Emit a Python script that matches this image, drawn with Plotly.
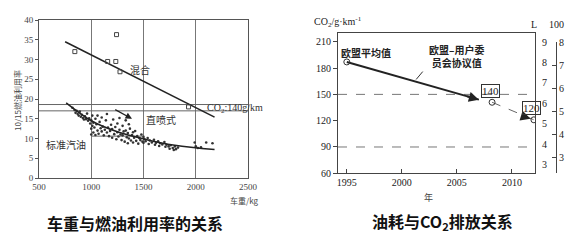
import plotly.graph_objects as go

W, H = 582, 241

# ---------------- Left chart data ----------------
weight_kg = [820, 840, 850, 860, 870, 880, 890, 900, 910, 920, 930, 940, 950, 960, 970, 980, 990,
             1000, 1000, 1000, 1010, 1010, 1020, 1020, 1030, 1040, 1040, 1050, 1060, 1060, 1070,
             1080, 1090, 1100, 1100, 1110, 1120, 1130, 1140, 1150, 1150, 1160, 1170, 1180, 1190,
             1200, 1200, 1210, 1220, 1230, 1240, 1250, 1250, 1260, 1270, 1270, 1280, 1290, 1300,
             1300, 1310, 1320, 1330, 1330, 1340, 1350, 1350, 1360, 1360, 1370, 1380, 1390, 1400,
             1400, 1410, 1420, 1430, 1440, 1450, 1460, 1470, 1480, 1490, 1500, 1500, 1510, 1520,
             1540, 1550, 1560, 1580, 1600, 1610, 1620, 1640, 1650, 1660, 1680, 1700, 1710, 1720,
             1740, 1750, 1760, 1780, 1790, 1800, 1810, 1830, 1990, 2000, 2020, 2050, 2100, 2160]
fuel_eff = [17.8, 17.2, 16.5, 17.0, 16.2, 15.8, 16.8, 15.5, 16.0, 15.2, 14.8, 15.6, 14.9, 16.3, 14.5, 15.1, 13.8,
            14.6, 12.5, 11.0, 15.8, 13.2, 14.0, 11.5, 12.8, 15.0, 10.9, 13.6, 12.0, 15.8, 11.2,
            14.2, 12.6, 11.8, 15.3, 13.0, 10.8, 12.2, 14.6, 11.5, 16.2, 12.8, 10.6, 11.9, 13.5,
            12.4, 10.2, 14.8, 11.1, 12.9, 9.8, 11.6, 13.8, 10.5, 12.2, 15.2, 11.0, 9.6, 13.2,
            10.8, 11.8, 9.2, 12.0, 14.6, 10.3, 11.4, 8.8, 10.0, 13.6, 12.5, 9.5, 10.9, 11.6,
            9.0, 10.2, 11.9, 9.4, 10.6, 8.7, 10.1, 9.6, 11.0, 9.2, 10.4, 8.9, 9.8, 9.3,
            10.1, 8.6, 9.5, 9.0, 9.7, 8.4, 8.9, 9.3, 8.1, 8.8, 8.5, 9.1, 7.9, 8.4,
            8.0, 7.4, 8.3, 7.6, 7.1, 8.0, 7.3, 7.7, 9.0, 8.0, 7.6, 7.8, 9.0, 8.8]

hybrid_kg = [843, 1157, 1235, 1242, 1275, 1931]
hybrid_eff = [32.0, 29.5, 29.5, 36.3, 26.9, 18.0]

hybrid_fit_kg = [750, 2180]
hybrid_fit_eff = [34.5, 15.4]

std_fit_kg = [760, 1000, 1250, 1500, 1800, 2180]
std_fit_eff = [19.0, 14.5, 11.7, 9.9, 8.3, 7.2]

di_fit_kg = [1215, 1390]
di_fit_eff = [17.5, 15.0]

co2_band_eff = [18.6, 17.0]
box_line_kg = [1000, 1500]
box_line_eff = [10.6, 10.6]

left_xticks = [500, 1000, 1500, 2000, 2500]
left_yticks = [0, 5, 10, 15, 20, 25, 30, 35, 40]

# ---------------- Right chart data ----------------
eu_years = [1995, 2007]
eu_co2 = [187, 144]
target_years = [2008.2, 2012]
target_co2 = [141, 121]
ref_levels = [150, 90]
right_xticks = [1995, 2000, 2005, 2010]
right_yticks = [60, 90, 120, 150, 180, 210]
petrol_ticks = [3, 4, 5, 6, 7, 8, 9]
diesel_ticks = [2.29, 3, 4, 5, 6, 7, 8]
diesel_text = ["", "3", "4", "5", "6", "7", "8"]
CO2_PER_L_PETROL = 23.3
CO2_PER_L_DIESEL = 26.2

SERIF = "Liberation Serif, DejaVu Serif, serif"
CJK = "Noto Sans CJK SC"

def px(x):
    return x / W

def py(y):
    return 1 - y / H

fig = go.Figure()

# ---- left chart traces ----
for lv in co2_band_eff:
    fig.add_trace(go.Scatter(x=[left_xticks[0], left_xticks[-1]], y=[lv, lv], mode="lines",
                             line=dict(color="#666", width=1), xaxis="x", yaxis="y", hoverinfo="skip"))
fig.add_trace(go.Scatter(x=box_line_kg, y=box_line_eff, mode="lines",
                         line=dict(color="#666", width=1), xaxis="x", yaxis="y", hoverinfo="skip"))
fig.add_trace(go.Scatter(x=weight_kg, y=fuel_eff, mode="markers",
                         marker=dict(color="#333", size=2.6), xaxis="x", yaxis="y"))
fig.add_trace(go.Scatter(x=std_fit_kg, y=std_fit_eff, mode="lines", line_shape="spline",
                         line=dict(color="#222", width=1.5), xaxis="x", yaxis="y"))
fig.add_trace(go.Scatter(x=hybrid_fit_kg, y=hybrid_fit_eff, mode="lines",
                         line=dict(color="#222", width=1.5), xaxis="x", yaxis="y"))
fig.add_trace(go.Scatter(x=hybrid_kg, y=hybrid_eff, mode="markers",
                         marker=dict(symbol="square-open", color="#444", size=4, line=dict(width=1)),
                         xaxis="x", yaxis="y"))

# ---- right chart traces ----
for lv in ref_levels:
    fig.add_trace(go.Scatter(x=[1994.2, 2012.1], y=[lv, lv], mode="lines",
                             line=dict(color="#777", width=1, dash="dash"), xaxis="x2", yaxis="y2",
                             hoverinfo="skip"))
fig.add_trace(go.Scatter(x=eu_years, y=eu_co2, mode="lines",
                         line=dict(color="#222", width=2), xaxis="x2", yaxis="y2"))
fig.add_trace(go.Scatter(x=eu_years[:1], y=eu_co2[:1], mode="markers",
                         marker=dict(symbol="circle-open", color="#333", size=6, line=dict(width=1)),
                         xaxis="x2", yaxis="y2"))
fig.add_trace(go.Scatter(x=target_years, y=target_co2, mode="lines+markers",
                         line=dict(color="#666", width=1, dash="dash"),
                         marker=dict(symbol="circle-open", color="#333", size=6, line=dict(width=1)),
                         xaxis="x2", yaxis="y2"))
# leader line from label to EU line
fig.add_trace(go.Scatter(x=[2001.9, 2001.3], y=[176, 167], mode="lines",
                         line=dict(color="#333", width=1), xaxis="x2", yaxis="y2"))
# invisible traces to bind extra axes
fig.add_trace(go.Scatter(x=[2000], y=[5], mode="markers", marker=dict(opacity=0),
                         xaxis="x2", yaxis="y3", hoverinfo="skip"))
fig.add_trace(go.Scatter(x=[2000], y=[5], mode="markers", marker=dict(opacity=0),
                         xaxis="x2", yaxis="y4", hoverinfo="skip"))

ann = []

def label(xp, ypix, text, family=CJK, size=10, color="#333", **kw):
    d = dict(x=px(xp), y=py(ypix), xref="paper", yref="paper", text=text, showarrow=False,
             xanchor="center", yanchor="middle", font=dict(family=family, size=size, color=color))
    d.update(kw)
    ann.append(d)

# left chart labels (data-anchored)
ann.append(dict(x=1470, y=27.5, xref="x", yref="y", text="混合", showarrow=False,
                xanchor="center", font=dict(family=CJK, size=10, color="#333")))
ann.append(dict(x=2088, y=17.7, xref="x", yref="y", text="CO<sub>2</sub>:140g/km", showarrow=False,
                xanchor="left", font=dict(family=SERIF, size=10, color="#333")))
ann.append(dict(x=1670, y=14.7, xref="x", yref="y", text="直喷式", showarrow=False,
                xanchor="center", font=dict(family=CJK, size=10, color="#333")))
ann.append(dict(x=762, y=8.4, xref="x", yref="y", text="标准汽油", showarrow=False,
                xanchor="center", font=dict(family=CJK, size=10, color="#333")))
ann.append(dict(x=di_fit_kg[1], y=di_fit_eff[1], ax=di_fit_kg[0], ay=di_fit_eff[0],
                xref="x", yref="y", axref="x", ayref="y", showarrow=True,
                arrowhead=2, arrowsize=1, arrowwidth=1.3, arrowcolor="#222", text=""))
label(17, 101, "10/15燃油利用率", size=8, color="#444", textangle=-90)
label(244, 200, "车重/kg", size=8, color="#444")
label(135, 223, "<b>车重与燃油利用率的关系</b>", size=16, color="#111")

# right chart
ann.append(dict(x=eu_years[1], y=eu_co2[1], ax=eu_years[1] - 1.2, ay=eu_co2[1] + 4.3,
                xref="x2", yref="y2", axref="x2", ayref="y2", showarrow=True,
                arrowhead=2, arrowsize=1, arrowwidth=2, arrowcolor="#222", text=""))
ann.append(dict(x=2011.7, y=122.3, ax=2010.9, ay=125.5,
                xref="x2", yref="y2", axref="x2", ayref="y2", showarrow=True,
                arrowhead=2, arrowsize=1, arrowwidth=2, arrowcolor="#222", text=""))
label(366, 52, "<b>欧盟平均值</b>", color="#222")
label(456, 56, "<b>欧盟–用户委<br>员会协议值</b>", color="#222")
label(490, 91, "140", family=SERIF, size=11, color="#222", bordercolor="#333", borderwidth=1, borderpad=0)
label(531, 108, "120", family=SERIF, size=11, color="#222", bordercolor="#333", borderwidth=1, borderpad=0)
label(534, 25, "L", family=SERIF, size=10, color="#222")
label(556, 25, "100", family=SERIF, size=10, color="#222")
label(338, 22, "CO<sub>2</sub>/g·km<sup>-1</sup>", family=SERIF, size=10, color="#222")
label(428, 197, "年", size=9, color="#444")
label(442, 221, "<b>油耗与CO<sub>2</sub>排放关系</b>", size=16, color="#111")

fig.update_layout(
    width=W, height=H, margin=dict(l=0, r=0, t=0, b=0, autoexpand=False),
    paper_bgcolor="white", plot_bgcolor="rgba(0,0,0,0)", showlegend=False,
    annotations=ann,
    xaxis=dict(domain=[px(39), px(248)], range=[500, 2500], tickvals=left_xticks,
               showgrid=True, gridcolor="#777", gridwidth=1, zeroline=False, automargin=False,
               showline=True, linecolor="#555", mirror=True, ticks="",
               tickfont=dict(family=SERIF, size=9, color="#444"), anchor="y"),
    yaxis=dict(domain=[1 - 178 / H, 1 - 20 / H], range=[0, 40], tickvals=left_yticks,
               showgrid=False, zeroline=False, showline=True, linecolor="#555", mirror=True,
               ticks="outside", ticklen=3, tickcolor="#555", automargin=False,
               tickfont=dict(family=SERIF, size=9, color="#444"), anchor="x"),
    xaxis2=dict(domain=[px(338), px(535)], range=[1994.2, 2012.1], tickvals=right_xticks,
                showgrid=False, zeroline=False, showline=True, linecolor="#444", mirror=True,
                ticks="inside", ticklen=4, tickcolor="#444", automargin=False,
                tickfont=dict(family=SERIF, size=10, color="#222"), anchor="y2"),
    yaxis2=dict(domain=[1 - 173.3 / H, 1 - 33 / H], range=[60, 220], tickvals=right_yticks,
                showgrid=False, zeroline=False, showline=True, linecolor="#444", mirror=True,
                ticks="outside", ticklen=4, tickcolor="#444", automargin=False,
                tickfont=dict(family=SERIF, size=10, color="#222"), anchor="x2"),
    yaxis3=dict(overlaying="y2", anchor="free", position=px(541), side="right",
                range=[60 / CO2_PER_L_PETROL, 220 / CO2_PER_L_PETROL], tickvals=petrol_ticks,
                showgrid=False, zeroline=False, showline=False, ticks="", automargin=False,
                tickfont=dict(family=SERIF, size=10, color="#222")),
    yaxis4=dict(anchor="free", position=px(556), side="right",
                domain=[1 - 173.3 / H, 1 - 42 / H],
                range=[60 / CO2_PER_L_DIESEL, (60 + 131.3 / 0.876) / CO2_PER_L_DIESEL],
                tickvals=diesel_ticks, ticktext=diesel_text, automargin=False,
                showgrid=False, zeroline=False, showline=True, linecolor="#444",
                ticks="inside", ticklen=4, tickcolor="#444",
                tickfont=dict(family=SERIF, size=10, color="#222")),
)

fig.write_html("out.html")
